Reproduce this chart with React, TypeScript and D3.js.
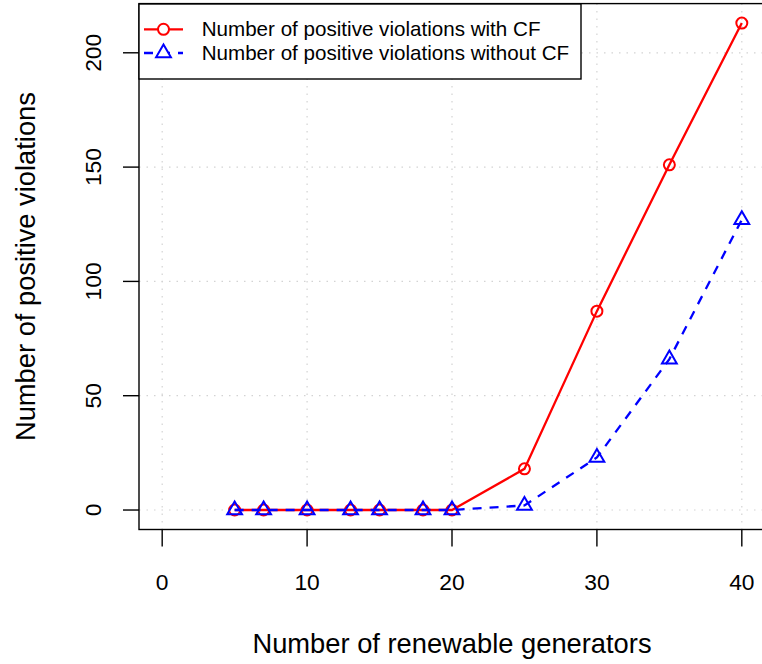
import React from "react";
import * as d3 from "d3";

const xValues = [5, 7, 10, 13, 15, 18, 20, 25, 30, 35, 40];
const withCF = [0, 0, 0, 0, 0, 0, 0, 18, 87, 151, 213];
const withoutCF = [0, 0, 0, 0, 0, 0, 0, 2, 23, 66, 127];
const xTicks = [0, 10, 20, 30, 40];
const yTicks = [0, 50, 100, 150, 200];
const seriesNames = [
  "Number of positive violations with CF",
  "Number of positive violations without CF",
];
const xTitle = "Number of renewable generators";
const yTitle = "Number of positive violations";

const W = 762;
const H = 664;
const FONT = "'Liberation Sans', Arial, Helvetica, sans-serif";

const PLOT = { left: 139, right: 765, top: 3.6, bottom: 529.5 };

function triPath(cx: number, cy: number, xc: number) {
  const r = 1.5551 * xc;
  const hx = 1.3468 * xc;
  const yc = 0.7776 * xc;
  return `M${cx},${cy - r}L${cx + hx},${cy + yc}L${cx - hx},${cy + yc}Z`;
}

export default function App() {
  const xDomain = [0, 40];
  const yMax = d3.max([...withCF, ...withoutCF]) as number;
  const yDomain = [0, yMax];
  const xPad = (xDomain[1] - xDomain[0]) * 0.04;
  const yPad = (yDomain[1] - yDomain[0]) * 0.04;
  const x = d3
    .scaleLinear()
    .domain([xDomain[0] - xPad, xDomain[1] + xPad])
    .range([PLOT.left, PLOT.right]);
  const y = d3
    .scaleLinear()
    .domain([yDomain[0] - yPad, yDomain[1] + yPad])
    .range([PLOT.bottom, PLOT.top]);

  const line = d3
    .line<number>()
    .x((_, i) => x(xValues[i]))
    .y((d) => y(d));

  const mk = 5.5;
  const red = "#FF0000";
  const blue = "#0000FF";
  const gridColor = "#D3D3D3";

  return (
    <svg
      width={W}
      height={H}
      style={{ position: "absolute", left: 0, top: 0, background: "#fff" }}
      fontFamily={FONT}
    >
      <rect x={0} y={0} width={W} height={H} fill="#fff" />
      {/* grid */}
      {xTicks.map((t) => (
        <line
          key={"gx" + t}
          x1={x(t)}
          x2={x(t)}
          y1={PLOT.top}
          y2={PLOT.bottom}
          stroke={gridColor}
          strokeWidth={1.2}
          strokeDasharray="1.5,6"
        />
      ))}
      {yTicks.map((t) => (
        <line
          key={"gy" + t}
          x1={PLOT.left}
          x2={PLOT.right}
          y1={y(t)}
          y2={y(t)}
          stroke={gridColor}
          strokeWidth={1.2}
          strokeDasharray="1.5,6"
        />
      ))}

      {/* series with CF */}
      <path d={line(withCF) || ""} fill="none" stroke={red} strokeWidth={2.3} />
      {withCF.map((v, i) => (
        <circle
          key={"c" + i}
          cx={x(xValues[i])}
          cy={y(v)}
          r={mk}
          fill="none"
          stroke={red}
          strokeWidth={2}
        />
      ))}
      {/* series without CF */}
      <path
        d={line(withoutCF) || ""}
        fill="none"
        stroke={blue}
        strokeWidth={2.3}
        strokeDasharray="9,8"
      />
      {withoutCF.map((v, i) => (
        <path
          key={"t" + i}
          d={triPath(x(xValues[i]), y(v), mk)}
          fill="none"
          stroke={blue}
          strokeWidth={2}
        />
      ))}

      {/* box */}
      <rect
        x={PLOT.left}
        y={PLOT.top}
        width={PLOT.right - PLOT.left}
        height={PLOT.bottom - PLOT.top}
        fill="none"
        stroke="#000"
        strokeWidth={1.4}
      />

      {/* x axis */}
      {xTicks.map((t) => (
        <g key={"xt" + t}>
          <line
            x1={x(t)}
            x2={x(t)}
            y1={PLOT.bottom}
            y2={PLOT.bottom + 17}
            stroke="#000"
            strokeWidth={1.4}
          />
          <text
            x={x(t)}
            y={590}
            textAnchor="middle"
            fontSize={22.8}
            fill="#000"
          >
            {t}
          </text>
        </g>
      ))}
      {/* y axis */}
      {yTicks.map((t) => (
        <g key={"yt" + t}>
          <line
            x1={PLOT.left - 16}
            x2={PLOT.left}
            y1={y(t)}
            y2={y(t)}
            stroke="#000"
            strokeWidth={1.4}
          />
          <text
            transform={`translate(101,${y(t)}) rotate(-90)`}
            textAnchor="middle"
            fontSize={22.8}
            fill="#000"
          >
            {t}
          </text>
        </g>
      ))}

      {/* titles */}
      <text
        x={(PLOT.left + PLOT.right) / 2}
        y={652.7}
        textAnchor="middle"
        fontSize={27.3}
        fill="#000"
      >
        {xTitle}
      </text>
      <text
        transform={`translate(35,${(PLOT.top + PLOT.bottom) / 2}) rotate(-90)`}
        textAnchor="middle"
        fontSize={27.3}
        fill="#000"
      >
        {yTitle}
      </text>

      {/* legend */}
      <rect
        x={139}
        y={4}
        width={442}
        height={75}
        fill="#fff"
        stroke="#000"
        strokeWidth={1.4}
      />
      <line x1={144} x2={183} y1={29.3} y2={29.3} stroke={red} strokeWidth={2.3} />
      <circle cx={163.5} cy={29.3} r={mk} fill="#fff" stroke={red} strokeWidth={2} />
      <line
        x1={144}
        x2={183}
        y1={53}
        y2={53}
        stroke={blue}
        strokeWidth={2.3}
        strokeDasharray="9,8"
      />
      <path d={triPath(163.5, 53, mk)} fill="#fff" stroke={blue} strokeWidth={2} />
      {seriesNames.map((s, i) => (
        <text key={s} x={201.7} y={36 + i * 24} fontSize={20.6} fill="#000">
          {s}
        </text>
      ))}
    </svg>
  );
}
